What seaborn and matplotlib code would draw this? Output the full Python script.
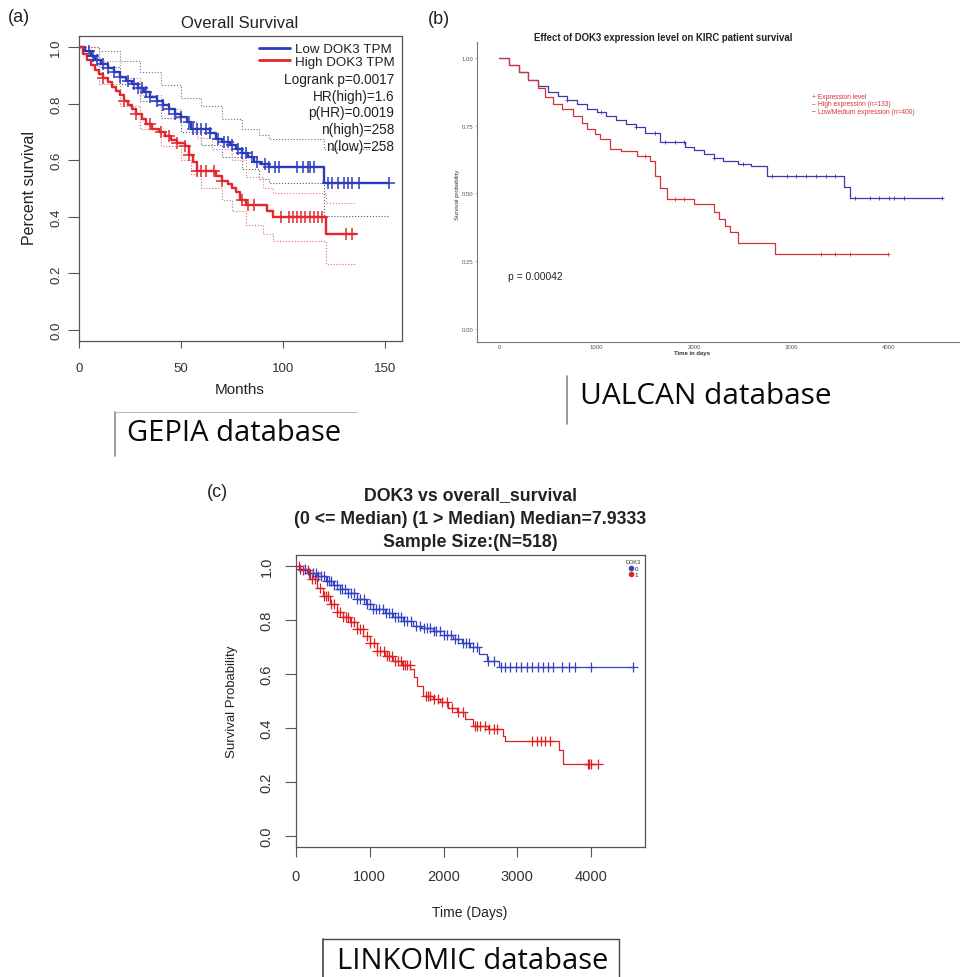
import numpy as np
import matplotlib
matplotlib.use("Agg")
import matplotlib.pyplot as plt
from matplotlib.lines import Line2D
import seaborn as sns

# ---------------- data ----------------
# Panel (a) GEPIA, months
a_low_t = [0, 3, 6, 8, 11, 14, 17, 20, 23, 26, 29, 32, 35, 38, 41, 44, 47, 50, 53, 55, 64, 67, 70, 74, 77, 80, 83, 86, 89, 93, 120, 152]
a_low_s = [1.0, 0.985, 0.97, 0.955, 0.94, 0.925, 0.91, 0.895, 0.88, 0.87, 0.855, 0.84, 0.825, 0.81, 0.795, 0.78, 0.765, 0.752, 0.735, 0.712, 0.695, 0.675, 0.665, 0.655, 0.64, 0.625, 0.61, 0.595, 0.585, 0.575, 0.519, 0.519]
a_high_t = [0, 2, 4, 6, 8, 10, 12, 14, 16, 18, 20, 22, 24, 26, 28, 31, 33, 36, 39, 42, 45, 48, 52, 54, 56, 58, 67, 70, 73, 75, 77, 79, 82, 92, 95, 121, 136]
a_high_s = [1.0, 0.975, 0.955, 0.935, 0.92, 0.905, 0.89, 0.875, 0.86, 0.845, 0.83, 0.81, 0.795, 0.78, 0.765, 0.745, 0.727, 0.712, 0.698, 0.685, 0.672, 0.662, 0.651, 0.62, 0.595, 0.563, 0.545, 0.528, 0.515, 0.5, 0.486, 0.46, 0.44, 0.42, 0.398, 0.339, 0.339]
a_low_cens = [5, 7, 9, 12, 14, 17, 20, 24, 27, 29, 31, 33, 35, 38, 41, 44, 47, 50, 54, 56, 58, 60, 62, 64, 68, 71, 73, 75, 78, 80, 82, 85, 87, 91, 93,
              96, 98, 107, 110, 112, 113, 115, 122, 124, 127, 130, 132, 134, 137, 152]
a_high_cens = [12, 22, 28, 35, 40, 44, 48, 52, 54, 58, 60, 62, 66, 70, 80, 83, 86, 99, 103, 105, 107, 109, 111, 113, 115, 117, 119, 131, 134]
a_low_up_t = [0, 10, 20, 30, 40, 50, 60, 70, 80, 88, 93, 120, 152]
a_low_up_s = [1.0, 0.985, 0.95, 0.91, 0.865, 0.82, 0.79, 0.745, 0.71, 0.69, 0.675, 0.64, 0.64]
a_low_lo_t = [0, 10, 20, 30, 40, 50, 60, 70, 80, 88, 93, 120, 152]
a_low_lo_s = [1.0, 0.93, 0.87, 0.81, 0.75, 0.70, 0.655, 0.61, 0.57, 0.535, 0.519, 0.404, 0.404]
a_high_up_t = [0, 10, 20, 30, 40, 50, 58, 65, 75, 82, 90, 95, 121, 136]
a_high_up_s = [1.0, 0.95, 0.89, 0.83, 0.78, 0.735, 0.68, 0.64, 0.6, 0.54, 0.5, 0.483, 0.45, 0.45]
a_high_lo_t = [0, 10, 20, 30, 40, 50, 55, 60, 70, 75, 82, 90, 95, 121, 136]
a_high_lo_s = [1.0, 0.87, 0.79, 0.71, 0.65, 0.6, 0.55, 0.5, 0.46, 0.42, 0.37, 0.34, 0.316, 0.233, 0.233]
a_xticks = [0, 50, 100, 150]
a_yticks = [0.0, 0.2, 0.4, 0.6, 0.8, 1.0]
a_stats = ["Logrank p=0.0017", "HR(high)=1.6", "p(HR)=0.0019", "n(high)=258", "n(low)=258"]

# Panel (b) UALCAN, days
b_low_t = [0, 100, 200, 300, 400, 500, 600, 700, 800, 900, 1000, 1100, 1200, 1300, 1400, 1500, 1650, 1910, 2000, 2100, 2200, 2300, 2450, 2580, 2750, 3540, 3600, 4545]
b_low_s = [1.0, 0.975, 0.95, 0.92, 0.895, 0.875, 0.86, 0.845, 0.83, 0.812, 0.8, 0.785, 0.77, 0.758, 0.745, 0.725, 0.69, 0.67, 0.66, 0.645, 0.632, 0.62, 0.61, 0.6, 0.566, 0.523, 0.483, 0.483]
b_high_t = [0, 100, 200, 300, 400, 470, 550, 650, 760, 850, 900, 980, 1040, 1140, 1250, 1410, 1550, 1600, 1650, 1720, 1995, 2200, 2260, 2320, 2370, 2455, 2830, 3990]
b_high_s = [1.0, 0.975, 0.95, 0.92, 0.89, 0.855, 0.83, 0.81, 0.787, 0.76, 0.738, 0.72, 0.701, 0.664, 0.655, 0.64, 0.621, 0.566, 0.52, 0.48, 0.461, 0.43, 0.406, 0.38, 0.357, 0.317, 0.277, 0.277]
b_low_cens = [700, 1050, 1400, 1600, 1700, 1800, 1900, 2200, 2500, 2800, 2950, 3050, 3150, 3250, 3350, 3450, 3650, 3800, 3900, 4000, 4050, 4150, 4540]
b_high_cens = [1500, 1800, 1900, 3300, 3450, 3600, 3990]
b_xticks = [0, 1000, 2000, 3000, 4000]
b_yticks = [0.0, 0.25, 0.5, 0.75, 1.0]
b_legend = ["Expression level", "High expression (n=133)", "Low/Medium expression (n=400)"]

# Panel (c) LINKOMIC, days
c_low_t = [0, 50, 150, 280, 400, 500, 600, 700, 820, 950, 1050, 1200, 1320, 1450, 1590, 1700, 1860, 2000, 2130, 2250, 2360, 2480, 2590, 2750, 4571]
c_low_s = [1.0, 0.99, 0.975, 0.964, 0.945, 0.93, 0.915, 0.9, 0.878, 0.86, 0.841, 0.825, 0.81, 0.795, 0.779, 0.77, 0.76, 0.745, 0.73, 0.715, 0.699, 0.675, 0.649, 0.625, 0.625]
c_high_t = [0, 60, 190, 280, 370, 460, 551, 640, 732, 820, 912, 1000, 1093, 1200, 1318, 1430, 1545, 1600, 1635, 1725, 1850, 1951, 2060, 2177, 2290, 2403, 2600, 2809, 2832, 3558, 3620, 4095]
c_high_s = [1.0, 0.985, 0.952, 0.92, 0.89, 0.86, 0.828, 0.81, 0.791, 0.765, 0.742, 0.715, 0.686, 0.668, 0.649, 0.635, 0.619, 0.59, 0.557, 0.52, 0.508, 0.495, 0.475, 0.458, 0.435, 0.409, 0.395, 0.371, 0.353, 0.32, 0.267, 0.267]
c_low_cens = [60, 120, 180, 230, 270, 300, 340, 380, 420, 450, 480, 520, 560, 600, 630, 660, 700, 740, 780, 830, 870, 920, 960, 1000,
              1050, 1090, 1130, 1180, 1220, 1260, 1300, 1340, 1380, 1420, 1460, 1500, 1560, 1620, 1680, 1730, 1780, 1820, 1870, 1900,
              1950, 2000, 2050, 2100, 2150, 2200, 2260, 2300, 2350, 2400, 2450, 2600, 2680, 2780, 2830, 2900, 2980, 3050, 3130, 3200,
              3280, 3350, 3420, 3480, 3600, 3700, 3780, 4000, 4570]
c_high_cens = [40, 100, 160, 220, 260, 320, 380, 400, 430, 470, 520, 560, 600, 640, 680, 700, 740, 780, 820, 870, 910, 960, 1000,
               1060, 1100, 1140, 1190, 1230, 1260, 1300, 1340, 1380, 1420, 1450, 1480, 1510, 1540, 1760, 1790, 1820, 1870, 1920,
               1980, 2050, 2120, 2200, 2260, 2420, 2450, 2500, 2560, 2620, 2680, 2730, 3200, 3260, 3320, 3380, 3440, 3950, 3970,
               4000, 4090]
c_xticks = [0, 1000, 2000, 3000, 4000]
c_yticks = [0.0, 0.2, 0.4, 0.6, 0.8, 1.0]
c_groups = ["0", "1"]

# ---------------- style ----------------
sns.set_theme(style="white")
plt.rcParams["font.family"] = ["Liberation Sans", "DejaVu Sans"]

W, H = 960, 978
fig = plt.figure(figsize=(W / 100, H / 100), dpi=100)


def fx(x):
    return x / W


def fy(y):
    return 1 - y / H


def step_at(t, s, c):
    t = np.asarray(t)
    s = np.asarray(s)
    idx = np.searchsorted(t, c, side="right") - 1
    return s[np.clip(idx, 0, len(s) - 1)]


def km(ax, t, s, color, lw, ls="-"):
    sns.lineplot(x=t, y=s, drawstyle="steps-post", estimator=None, sort=False,
                 color=color, lw=lw, ls=ls, ax=ax)


def cens(ax, t, s, c, color, size, lw):
    sns.scatterplot(x=c, y=step_at(t, s, c), marker="+", s=size, color=color,
                    linewidth=lw, ax=ax, zorder=3)


GREY = "#555555"

# ---------------- panel (a) ----------------
A_BLUE, A_RED = "#2b3bbf", "#e3262b"
ax_a = fig.add_axes([fx(79), fy(342), 323 / W, 305 / H])
km(ax_a, a_low_up_t, a_low_up_s, "#6a6aa8", 0.8, ":")
km(ax_a, a_low_lo_t, a_low_lo_s, "#55557a", 0.8, ":")
km(ax_a, a_high_up_t, a_high_up_s, "#e87a7a", 0.8, ":")
km(ax_a, a_high_lo_t, a_high_lo_s, "#e06a6a", 0.8, ":")
km(ax_a, a_low_t, a_low_s, A_BLUE, 1.7)
km(ax_a, a_high_t, a_high_s, A_RED, 1.7)
cens(ax_a, a_low_t, a_low_s, a_low_cens, A_BLUE, 70, 1.1)
cens(ax_a, a_high_t, a_high_s, a_high_cens, A_RED, 70, 1.1)
ax_a.set_xlim(0, 158.3)
ax_a.set_ylim(-0.039, 1.039)
ax_a.set_xticks(a_xticks)
ax_a.set_yticks(a_yticks)
ax_a.set_yticklabels([f"{v:.1f}" for v in a_yticks], rotation=90, va="center")
ax_a.tick_params(axis="both", colors=GREY, labelcolor="#333333", labelsize=9.5, direction="out")
ax_a.tick_params(axis="y", length=8, width=0.8, pad=4, left=True)
ax_a.tick_params(axis="x", length=5, width=0.8, pad=10, bottom=True)
for sp in ax_a.spines.values():
    sp.set_color(GREY)
    sp.set_linewidth(0.9)
ax_a.set_xlabel("Months", fontsize=11, color="#222222")
ax_a.xaxis.set_label_coords(fx(240), fy(390), transform=fig.transFigure)
ax_a.xaxis.label.set_va("center")
ax_a.set_ylabel("Percent survival", fontsize=11.5, color="#222222")
ax_a.yaxis.set_label_coords(fx(30), fy(188), transform=fig.transFigure)
ax_a.yaxis.label.set_va("center")
fig.text(fx(240), fy(23), "Overall Survival", ha="center", va="center", fontsize=12, color="#222222")
leg_a = ax_a.legend(handles=[Line2D([], [], color=A_BLUE, lw=2), Line2D([], [], color=A_RED, lw=2)],
                    labels=["Low DOK3 TPM", "High DOK3 TPM"], loc="upper right",
                    bbox_to_anchor=(fx(395), fy(44)), bbox_transform=fig.transFigure,
                    frameon=False, fontsize=9.6, labelspacing=0.02, handlelength=2.3,
                    handletextpad=0.4, borderpad=0, borderaxespad=0)
for t in leg_a.get_texts():
    t.set_color("#222222")
fig.text(fx(394), fy(73), "\n".join(a_stats), ha="right", va="top", fontsize=9.8,
         color="#222222", linespacing=1.24)

# ---------------- panel (b) ----------------
B_BLUE, B_RED = "#3a3aa8", "#d23535"
ax_b = fig.add_axes([fx(477), fy(343), 483 / W, 300 / H])
km(ax_b, b_low_t, b_low_s, B_BLUE, 0.9)
km(ax_b, b_high_t, b_high_s, B_RED, 0.9)
cens(ax_b, b_low_t, b_low_s, b_low_cens, B_BLUE, 6, 0.6)
cens(ax_b, b_high_t, b_high_s, b_high_cens, B_RED, 6, 0.6)
ax_b.set_xlim(-226, 4728)
ax_b.set_ylim(-0.048, 1.059)
ax_b.set_xticks(b_xticks)
ax_b.set_yticks(b_yticks)
ax_b.set_yticklabels([f"{v:.2f}" for v in b_yticks])
for side in ["top", "right"]:
    ax_b.spines[side].set_visible(False)
for side in ["left", "bottom"]:
    ax_b.spines[side].set_color("#777777")
    ax_b.spines[side].set_linewidth(0.8)
ax_b.tick_params(axis="both", labelsize=4.3, colors="#999999", labelcolor="#555555", direction="out")
ax_b.tick_params(axis="y", length=1.5, width=0.5, pad=1, left=True)
ax_b.tick_params(axis="x", length=0, pad=1.5, bottom=True)
ax_b.set_xlabel("Time in days", fontsize=4.3, color="#333333", fontweight="bold")
ax_b.xaxis.set_label_coords(fx(692), fy(353), transform=fig.transFigure)
ax_b.xaxis.label.set_va("center")
ax_b.set_ylabel("Survival probability", fontsize=4.3, color="#333333")
ax_b.yaxis.set_label_coords(fx(457), fy(195), transform=fig.transFigure)
ax_b.yaxis.label.set_va("center")
fig.text(fx(663), fy(38), "Effect of DOK3 expression level on KIRC patient survival",
         ha="center", va="center", fontsize=6.9, fontweight="bold", color="#222222")
fig.text(fx(508), fy(277), "p = 0.00042", ha="left", va="center", fontsize=7.4, color="#222222")
LEG_FS = 4.8
fig.text(fx(812), fy(98), "+ " + b_legend[0], ha="left", va="center", fontsize=LEG_FS, color=B_RED)
fig.text(fx(812), fy(105), "\u2013", ha="left", va="center", fontsize=LEG_FS, color=B_RED)
fig.text(fx(818), fy(105), b_legend[1], ha="left", va="center", fontsize=LEG_FS, color=B_RED)
fig.text(fx(812), fy(112), "\u2013", ha="left", va="center", fontsize=LEG_FS, color=B_BLUE)
fig.text(fx(818), fy(112), b_legend[2], ha="left", va="center", fontsize=LEG_FS, color=B_RED)

# ---------------- panel (c) ----------------
C_BLUE, C_RED = "#3443c4", "#e02020"
ax_c = fig.add_axes([fx(296), fy(848), 349 / W, 292 / H])
km(ax_c, c_low_t, c_low_s, C_BLUE, 0.9)
km(ax_c, c_high_t, c_high_s, C_RED, 0.9)
cens(ax_c, c_low_t, c_low_s, c_low_cens, C_BLUE, 50, 0.9)
cens(ax_c, c_high_t, c_high_s, c_high_cens, C_RED, 50, 0.9)
ax_c.set_xlim(0, 4729)
ax_c.set_ylim(-0.041, 1.041)
ax_c.set_xticks(c_xticks)
ax_c.set_yticks(c_yticks)
ax_c.set_yticklabels([f"{v:.1f}" for v in c_yticks], rotation=90, va="center")
ax_c.tick_params(axis="both", colors=GREY, labelcolor="#333333", labelsize=10.5, direction="out")
ax_c.tick_params(axis="y", length=8, width=0.8, pad=8, left=True)
ax_c.tick_params(axis="x", length=7, width=0.8, pad=9, bottom=True)
for sp in ax_c.spines.values():
    sp.set_color(GREY)
    sp.set_linewidth(0.9)
ax_c.set_xlabel("Time (Days)", fontsize=10, color="#222222")
ax_c.xaxis.set_label_coords(fx(470), fy(913), transform=fig.transFigure)
ax_c.xaxis.label.set_va("center")
ax_c.set_ylabel("Survival Probability", fontsize=9.5, color="#222222")
ax_c.yaxis.set_label_coords(fx(232), fy(702), transform=fig.transFigure)
ax_c.yaxis.label.set_va("center")
fig.text(fx(470), fy(519), "DOK3 vs overall_survival\n(0 <= Median) (1 > Median) Median=7.9333\nSample Size:(N=518)",
         ha="center", va="center", fontsize=12.8, fontweight="bold", color="#222222", linespacing=1.48)
leg_c = ax_c.legend(handles=[Line2D([], [], color=C_BLUE, marker="o", ls="", ms=3),
                             Line2D([], [], color=C_RED, marker="o", ls="", ms=3)],
                    labels=c_groups, title="DOK3", loc="upper right", frameon=False,
                    fontsize=4.5, title_fontsize=4, handletextpad=0.2, labelspacing=0.15,
                    borderpad=0.5, borderaxespad=0.2, handlelength=0.8)

# ---------------- panel labels & database tags ----------------
fig.text(fx(8), fy(18), "(a)", ha="left", va="center", fontsize=13, color="#222222")
fig.text(fx(428), fy(19), "(b)", ha="left", va="center", fontsize=13, color="#222222")
fig.text(fx(207), fy(493), "(c)", ha="left", va="center", fontsize=13, color="#222222")

tag_font = ["Open Sans", "DejaVu Sans"]
fig.text(fx(234), fy(434), "GEPIA database", ha="center", va="center", fontsize=21, family=tag_font, color="#0a0a0a")
fig.text(fx(706), fy(397), "UALCAN database", ha="center", va="center", fontsize=21.5, family=tag_font, color="#0a0a0a")
fig.text(fx(473), fy(962), "LINKOMIC database", ha="center", va="center", fontsize=21, family=tag_font, color="#0a0a0a")

lc = "#888888"
fig.add_artist(Line2D([fx(115), fx(115)], [fy(413), fy(457)], color=lc, lw=1.2, transform=fig.transFigure))
fig.add_artist(Line2D([fx(115), fx(357)], [fy(413), fy(413)], color="#bbbbbb", lw=0.8, transform=fig.transFigure))
fig.add_artist(Line2D([fx(567), fx(567)], [fy(377), fy(425)], color=lc, lw=1.2, transform=fig.transFigure))
fig.add_artist(Line2D([fx(323), fx(323)], [fy(940), fy(978)], color="#444444", lw=1.2, transform=fig.transFigure))
fig.add_artist(Line2D([fx(323), fx(619)], [fy(940), fy(940)], color="#444444", lw=1.0, transform=fig.transFigure))
fig.add_artist(Line2D([fx(619), fx(619)], [fy(940), fy(978)], color="#444444", lw=1.0, transform=fig.transFigure))

fig.savefig("out.png", dpi=100)
